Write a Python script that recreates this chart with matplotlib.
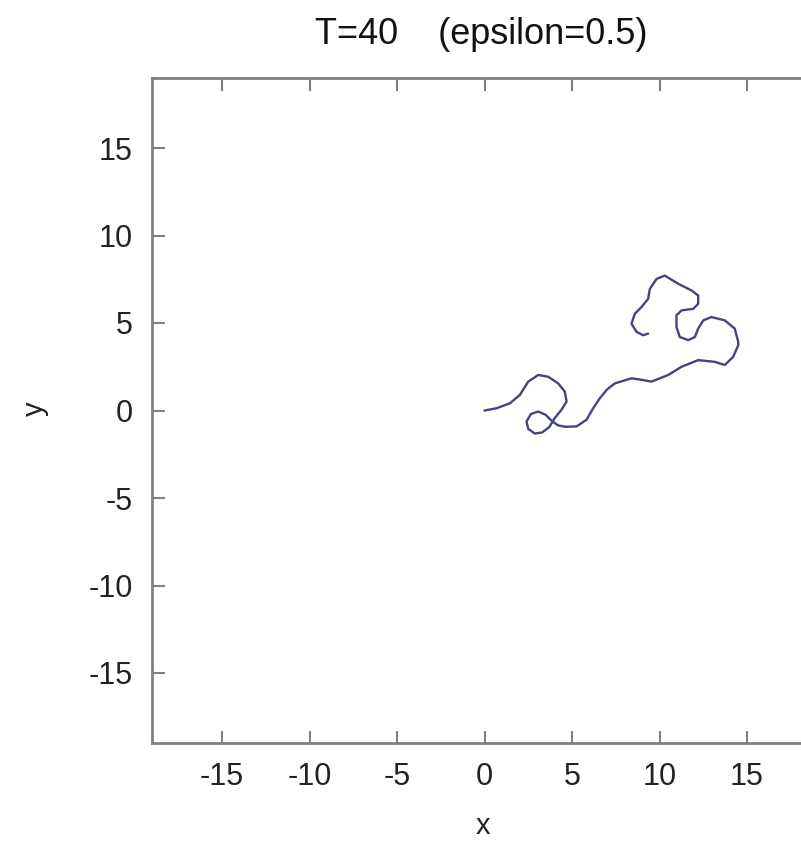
import numpy as np
import matplotlib
matplotlib.use("Agg")
import matplotlib.pyplot as plt

plt.rcParams['font.family'] = ['Liberation Sans', 'DejaVu Sans']
plt.rcParams['axes.unicode_minus'] = False

# Trajectory (data units)
PATH_X = [0.0, 0.69, 1.45, 2.02, 2.5, 3.07, 3.64, 4.21, 4.59, 4.69, 4.4,
          4.0, 3.7, 3.3, 2.88, 2.5, 2.4, 2.65, 3.07, 3.5, 3.85, 4.2, 4.6,
          5.26, 5.83, 6.21, 6.59, 7.0, 7.45, 8.4, 9.0, 9.54, 10.5, 11.26,
          12.21, 13.16, 13.73, 14.21, 14.5, 14.5, 14.3, 13.73, 12.97, 12.5,
          12.21, 12.02, 11.64, 11.16, 10.97, 10.97, 11.26, 11.93, 12.21,
          12.21, 11.83, 11.07, 10.3, 9.83, 9.45, 9.35, 8.97, 8.59, 8.4, 8.69,
          9.07, 9.35]
PATH_Y = [0.0, 0.13, 0.41, 0.89, 1.65, 2.03, 1.93, 1.55, 1.08, 0.51, 0.04,
          -0.45, -0.95, -1.25, -1.32, -1.05, -0.63, -0.2, -0.06, -0.25, -0.6,
          -0.85, -0.93, -0.91, -0.53, 0.13, 0.7, 1.2, 1.55, 1.84, 1.75, 1.65,
          2.03, 2.5, 2.88, 2.78, 2.6, 3.07, 3.73, 3.92, 4.68, 5.15, 5.34, 5.15,
          4.68, 4.2, 4.02, 4.2, 4.77, 5.44, 5.72, 5.81, 6.1, 6.57, 6.86, 7.24,
          7.71, 7.52, 6.95, 6.38, 5.91, 5.53, 4.96, 4.49, 4.3, 4.39]

TICKS = [-15, -10, -5, 0, 5, 10, 15]
LIMITS = (-19, 19)

fig = plt.figure(figsize=(8.01, 8.41), dpi=100)
ax = fig.add_axes([152 / 801, 98 / 841, 665 / 801, 665 / 841])

ax.plot(PATH_X, PATH_Y, color='#44447e', linewidth=1.7,
        solid_joinstyle='round', solid_capstyle='round')

ax.set_xlim(*LIMITS)
ax.set_ylim(*LIMITS)
ax.set_xticks(TICKS)
ax.set_yticks(TICKS)
ax.tick_params(direction='in', length=9, width=1.5, color='#808080',
               labelsize=22, pad=14, top=True, right=True,
               labelcolor='#222222')
for sp in ax.spines.values():
    sp.set_color('#808080')
    sp.set_linewidth(2)

fig.text(481 / 801, 1 - 35 / 841, 'T=40    (epsilon=0.5)', fontsize=26,
         ha='center', va='center', color='#111111')
fig.text(483 / 801, 1 - 826 / 841, 'x', fontsize=21, ha='center',
         va='center', color='#222222')
fig.text(35 / 801, 1 - 409 / 841, 'y', fontsize=21, ha='center',
         va='center', rotation=90, color='#222222')

fig.savefig('out.png', dpi=100)
